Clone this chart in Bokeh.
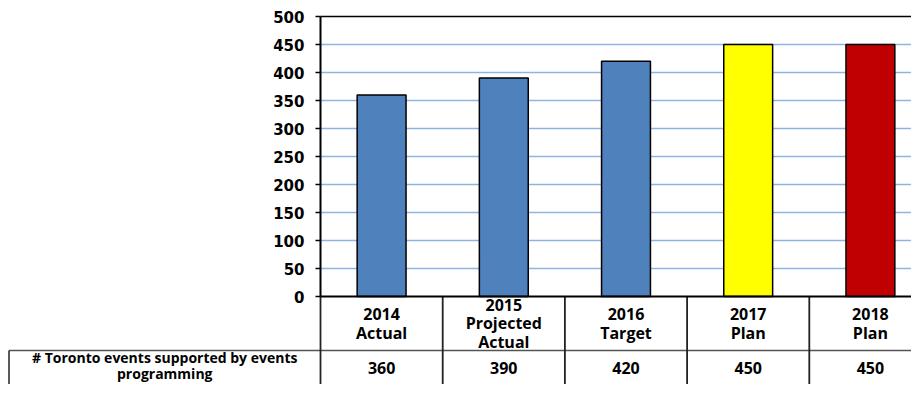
from bokeh.plotting import figure
from bokeh.models import Range1d, FixedTicker
from bokeh.core.properties import value
from bokeh.embed import file_html
from bokeh.resources import INLINE

# ---- data ----
categories = ["2014\nActual", "2015\nProjected\nActual", "2016\nTarget", "2017\nPlan", "2018\nPlan"]
values = [360, 390, 420, 450, 450]
bar_colors = ["#4F81BD", "#4F81BD", "#4F81BD", "#FFFF00", "#C00000"]
row_label = "# Toronto events supported by events\nprogramming"
y_ticks = [0, 50, 100, 150, 200, 250, 300, 350, 400, 450, 500]

# ---- layout (canvas pixels) ----
W, H = 911, 384
axis_px = 320.0      # x of the value axis
cell_px = 122.2      # width of one category cell
zero_px = 296.0      # y of value 0
unit_px = 0.56       # pixels per unit
row_px = 350.0       # y of boundary between the two table rows
left_px = 8.5        # x of the table's left border

def ydata(py):
    return (zero_px - py) / unit_px

def xdata(px):
    return (px - axis_px) / cell_px

x_start = xdata(0)
x_end = xdata(W)
y_start = ydata(H)
y_end = ydata(0)

p = figure(width=W, height=H, output_backend="svg", toolbar_location=None,
           x_range=Range1d(x_start, x_end), y_range=Range1d(y_start, y_end),
           x_axis_location=None, y_axis_location="left",
           min_border=0, min_border_left=0, min_border_right=0,
           min_border_top=0, min_border_bottom=0)
p.outline_line_color = None
p.grid.visible = False
p.background_fill_color = "white"
p.border_fill_color = "white"

n = len(categories)
centers = [i + 0.5 for i in range(n)]
ymax = y_ticks[-1]

# gridlines
grid_vals = y_ticks[1:-1]
p.segment(x0=[0] * len(grid_vals), x1=[x_end] * len(grid_vals), y0=grid_vals, y1=grid_vals,
          line_color="#8EB4E3", line_width=1.5)

# bars
p.vbar(x=centers, width=0.4, bottom=0, top=values, fill_color=bar_colors,
       line_color="black", line_width=1.5)

# plot-area top border
p.segment(x0=[0], x1=[x_end], y0=[ymax], y1=[ymax], line_color="black", line_width=1.5)

# table lines
row_y = ydata(row_px)
xl = xdata(left_px)
p.segment(x0=[xl], x1=[x_end], y0=[row_y], y1=[row_y],
          line_color="#555555", line_width=1.5)
p.segment(x0=list(range(n)), x1=list(range(n)), y0=[y_start] * n, y1=[0] * n,
          line_color="#222222", line_width=1.8)
p.segment(x0=[xl], x1=[xl], y0=[y_start], y1=[row_y],
          line_color="#222222", line_width=1.5)
p.segment(x0=[0], x1=[x_end], y0=[0], y1=[0], line_color="black", line_width=2)

# table texts
font = value("Open Sans")
p.text(x=centers, y=[ydata(323)] * n, text=categories, text_font=font,
       text_font_style="bold", text_font_size="16px", text_align="center",
       text_baseline="middle", text_color="black", text_line_height=0.85)
p.text(x=centers, y=[ydata(367)] * n, text=[str(v) for v in values], text_font=font,
       text_font_style="bold", text_font_size="16px", text_align="center",
       text_baseline="middle", text_color="black")
p.text(x=[(xl + 0) / 2.0], y=[ydata(365)], text=[row_label], text_font=font,
       text_font_style="bold", text_font_size="14px", text_align="center",
       text_baseline="middle", text_color="black", text_line_height=0.8)

# value axis
ax = p.yaxis[0]
ax.fixed_location = 0
ax.bounds = (0, ymax)
ax.ticker = FixedTicker(ticks=y_ticks)
ax.axis_line_color = "black"
ax.axis_line_width = 2
ax.major_tick_line_color = "black"
ax.major_tick_line_width = 1.5
ax.major_tick_out = 5
ax.major_tick_in = 0
ax.minor_tick_line_color = None
ax.major_label_standoff = 11
ax.major_label_text_font = "DejaVu Sans"
ax.major_label_text_font_style = "bold"
ax.major_label_text_font_size = "15px"
ax.major_label_text_color = "black"

open("out.html", "w").write(file_html(p, INLINE))
